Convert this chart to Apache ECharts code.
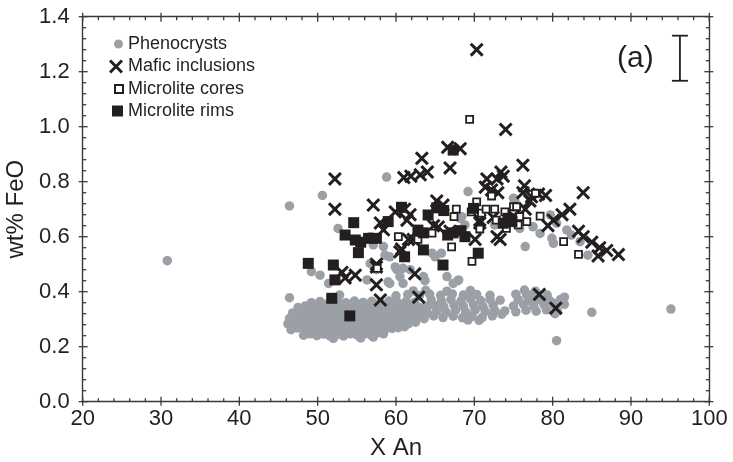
<!DOCTYPE html>
<html><head><meta charset="utf-8">
<script src="https://cdn.jsdelivr.net/npm/echarts@6/dist/echarts.min.js"></script>
<style>html,body{margin:0;padding:0;background:#fff}#c{width:733px;height:462px}</style>
</head><body><div id="c"></div>
<script>
// ---- data (X An, wt% FeO) ----
const xTicks = [20, 30, 40, 50, 60, 70, 80, 90, 100];
const yTicks = [0.0, 0.2, 0.4, 0.6, 0.8, 1.0, 1.2, 1.4];
const seriesNames = ['Phenocrysts', 'Mafic inclusions', 'Microlite cores', 'Microlite rims'];

const phenocrysts = [
  [48.2,0.242],[49.0,0.247],[49.9,0.240],[50.8,0.246],[51.6,0.238],[52.5,0.245],[53.3,0.239],[54.2,0.247],[55.1,0.241],[55.9,0.246],[56.8,0.243],[57.6,0.25],[58.4,0.247],
  [46.6,0.262],[47.4,0.268],[48.3,0.263],[49.1,0.267],[50.0,0.261],[50.9,0.266],[51.7,0.262],[52.6,0.268],[53.4,0.263],[54.3,0.266],[55.2,0.261],[56.0,0.267],[56.9,0.264],[57.7,0.268],[58.6,0.262],[59.5,0.267],[60.3,0.269],[61.1,0.273],
  [46.2,0.283],[47.0,0.288],[47.9,0.282],[48.7,0.287],[49.6,0.283],[50.5,0.288],[51.3,0.282],[52.2,0.286],[53.0,0.281],[53.9,0.287],[54.8,0.283],[55.6,0.288],[56.5,0.282],[57.3,0.287],[58.2,0.283],[59.1,0.288],[59.9,0.282],[60.8,0.287],[61.6,0.284],[62.5,0.289],
  [46.4,0.303],[47.3,0.308],[48.1,0.302],[49.0,0.307],[49.8,0.303],[50.7,0.308],[51.6,0.302],[52.4,0.306],[53.3,0.301],[54.1,0.307],[55.0,0.303],[55.9,0.308],[56.7,0.302],[57.6,0.307],[58.4,0.303],[59.3,0.308],[60.2,0.302],[61.0,0.307],[61.9,0.303],[62.7,0.306],[63.6,0.302],
  [46.8,0.323],[47.6,0.328],[48.5,0.322],[49.3,0.327],[50.2,0.323],[51.1,0.328],[51.9,0.322],[52.8,0.326],[53.6,0.321],[54.5,0.327],[55.4,0.323],[56.2,0.328],[57.1,0.322],[57.9,0.327],[58.8,0.323],[59.7,0.328],[60.5,0.322],[61.4,0.327],[62.2,0.323],[63.1,0.328],[64.0,0.324],
  [47.5,0.343],[48.4,0.348],[49.2,0.342],[50.1,0.347],[51.0,0.343],[51.8,0.348],[52.7,0.342],[53.5,0.346],[54.4,0.341],[55.3,0.347],[56.1,0.343],[57.0,0.348],[57.8,0.342],[58.7,0.347],[59.6,0.343],[60.4,0.348],[61.3,0.342],[62.1,0.347],[63.0,0.343],[63.9,0.346],
  [49.2,0.36],[50.3,0.364],[51.4,0.359],[52.5,0.365],[53.6,0.36],[54.7,0.366],[55.8,0.361],[56.9,0.365],[58.0,0.36],[59.1,0.366],[60.2,0.361],[61.3,0.365],[62.4,0.362],
  [64.8,0.312],[66.0,0.306],[67.3,0.311],[68.5,0.305],[69.7,0.31],[71.0,0.306],[72.3,0.312],
  [65.2,0.33],[66.4,0.326],[67.6,0.332],[68.9,0.327],[70.1,0.333],[71.4,0.328],[72.6,0.332],[73.9,0.33],[75.3,0.327],[76.6,0.333],[77.9,0.329],[79.2,0.334],[80.6,0.33],
  [64.9,0.35],[66.1,0.346],[67.4,0.352],[68.6,0.347],[69.9,0.352],[71.1,0.347],[72.4,0.351],[75.0,0.348],[76.3,0.353],[77.6,0.348],[78.9,0.353],[80.2,0.349],[81.5,0.354],
  [64.5,0.37],[65.8,0.366],[67.0,0.372],[68.3,0.367],[69.5,0.373],[70.8,0.368],[72.0,0.372],[73.3,0.369],[75.6,0.371],[76.9,0.367],[78.2,0.373],[79.6,0.368],[81.0,0.372],
  [60.0,0.385],[61.5,0.39],[63.0,0.386],[64.3,0.391],[65.7,0.387],[67.2,0.392],[68.6,0.388],[70.3,0.39],[72.0,0.387],[75.3,0.391],[76.7,0.387],[78.0,0.392],[79.3,0.388],
  [62.2,0.403],[63.8,0.405],[66.5,0.402],[69.5,0.404],[76.4,0.406],[77.8,0.402],
  [69.2,0.297],[70.6,0.296],[73.5,0.318],[57.1,0.235],[55.5,0.232],[52.0,0.23],
  [30.8,0.513],[46.4,0.712],[50.6,0.75],[58.8,0.817],[69.2,0.764],[76.5,0.564],
  [46.4,0.378],[49.2,0.473],[50.3,0.46],[51.4,0.43],[52.8,0.388],
  [56.7,0.503],[57.1,0.57],[58.4,0.564],[56.3,0.443],[59.0,0.436],[60.9,0.43],[59.9,0.49],
  [65.0,0.527],[65.8,0.54],[67.3,0.43],[68.0,0.443],[63.5,0.455],[56.7,0.60],[58.6,0.533],
  [59.2,0.527],[60.9,0.485],[64.6,0.54],[66.5,0.455],[63.7,0.44],[59.2,0.43],
  [57.5,0.48],[60.1,0.48],[60.5,0.455],[61.8,0.48],[67.9,0.44],
  [68.4,0.673],[68.8,0.643],[72.6,0.643],[75.0,0.74],[75.2,0.727],
  [77.5,0.636],[78.4,0.612],[79.9,0.594],[80.1,0.576],[79.7,0.679],[80.5,0.649],[81.8,0.624],[82.4,0.606],[83.5,0.582],[84.5,0.533],
  [52.6,0.63],[68.2,0.667],[75.8,0.63],
  [85.0,0.325],[95.1,0.337],[80.5,0.222],
  [77.1,0.388],[78.8,0.364],[80.1,0.358],[81.2,0.364],[80.3,0.32],[81.5,0.38]
];

const maficInclusions = [
  [70.3,1.28],[74.0,0.99],[66.6,0.925],[68.2,0.92],[63.3,0.885],[66.9,0.85],[76.2,0.86],
  [52.2,0.81],[52.2,0.70],[57.1,0.715],
  [61.0,0.815],[61.9,0.82],[63.1,0.825],[64.0,0.835],
  [73.4,0.835],[72.9,0.81],[73.7,0.82],[71.6,0.81],
  [71.4,0.78],[72.2,0.77],[73.0,0.76],[76.4,0.785],
  [76.2,0.76],[77.3,0.745],[78.2,0.755],[79.1,0.75],[77.1,0.73],
  [83.9,0.76],[82.2,0.70],[81.2,0.68],[80.1,0.66],[79.4,0.64],
  [83.3,0.62],[83.9,0.60],[85.0,0.58],[86.0,0.56],[86.9,0.55],[85.8,0.53],[88.4,0.535],
  [73.3,0.59],[78.3,0.39],[80.4,0.34],
  [65.2,0.73],[66.0,0.715],[61.1,0.70],[58.0,0.65],[59.9,0.69],[61.8,0.68],[61.4,0.66],
  [64.8,0.64],[66.9,0.62],[62.2,0.59],[70.1,0.59],[72.9,0.60],
  [70.7,0.65],[72.4,0.67],[75.0,0.675],[76.5,0.70],
  [60.7,0.555],[57.5,0.49],[58.4,0.625],[61.6,0.59],[60.5,0.545],
  [53.1,0.47],[54.8,0.46],[53.5,0.45],[57.5,0.50],[62.4,0.465],[57.5,0.425],[58.0,0.37],[62.9,0.38],
  [65.4,0.635],[70.7,0.66]
];

const microliteCores = [
  [69.4,1.027],[60.3,0.60],[62.8,0.59],[67.1,0.563],[69.7,0.51],
  [67.7,0.70],[67.4,0.673],[70.3,0.727],[70.9,0.686],[70.7,0.628],[72.2,0.748],
  [75.0,0.709],[75.4,0.709],[73.9,0.69],[75.8,0.673],[76.7,0.655],
  [74.3,0.66],[75.6,0.643],[74.1,0.63],[78.4,0.675],[57.6,0.485],[64.6,0.613],
  [77.8,0.758],[81.4,0.582],[83.3,0.536],[71.5,0.70],[72.6,0.70],[72.8,0.66],[69.6,0.69]
];

const microliteRims = [
  [67.3,0.915],[60.7,0.707],[54.6,0.651],[59.0,0.655],[64.1,0.679],[65.2,0.705],[66.1,0.695],[69.9,0.703],
  [53.5,0.606],[54.8,0.588],[55.5,0.58],[56.5,0.594],[57.5,0.594],[55.2,0.542],
  [62.8,0.624],[63.5,0.614],[66.6,0.606],[67.3,0.614],[68.3,0.622],[68.8,0.60],
  [63.5,0.552],[61.1,0.527],[66.0,0.497],[70.5,0.54],
  [48.8,0.503],[52.0,0.497],[52.2,0.443],[51.8,0.376],[54.1,0.312],
  [73.7,0.649],[74.3,0.667],[74.8,0.655]
];

// representative analytical uncertainty: [X An, FeO, ± error]
const errorBar = [[96.25, 1.249, 0.082]];
const panelLabel = '(a)';

// ---- chart ----
const INK = '#231f20';
const AXC = '#3a3a3a';
const GRAY = '#9ba0a7';
const FONT = 'Liberation Sans, Arial, Helvetica, sans-serif';
const XPATH = 'path://M0,1.5L1.5,0L5,3.5L8.5,0L10,1.5L6.5,5L10,8.5L8.5,10L5,6.5L1.5,10L0,8.5L3.5,5Z';

const xMin = xTicks[0], xMax = xTicks[xTicks.length-1], xInt = xTicks[1]-xTicks[0];
const yMin = yTicks[0], yMax = yTicks[yTicks.length-1], yInt = +(yTicks[1]-yTicks[0]).toFixed(2);
const MINOR_SPLIT = 5;

// tick positions (major = 1, minor = 0), derived from the tick-label arrays
function tickList(ticks) {
  const out = [];
  for (let i = 0; i < ticks.length; i++) {
    out.push([ticks[i], 1]);
    if (i < ticks.length - 1) {
      for (let k = 1; k < MINOR_SPLIT; k++) out.push([ticks[i] + (ticks[i+1] - ticks[i]) * k / MINOR_SPLIT, 0]);
    }
  }
  return out;
}
const xTickData = tickList(xTicks).map(t => [t[0], yMin, t[1]]);
const yTickData = tickList(yTicks).map(t => [xMin, t[0], t[1]]);

function axisLook() {
  return {
    axisLine: {show: true, onZero: false, lineStyle: {color: AXC, width: 1.4}},
    splitLine: {show: false},
    axisTick: {show: false},
    minorTick: {show: false}
  };
}

const MAJ_IN = 5, MAJ_OUT = 4, MIN_IN = 3.5;
const tickStyle = {stroke: AXC, lineWidth: 1.3};
function tickSeries(name, data, isX) {
  return {
    name: name, type: 'custom', data: data, z: 8, silent: true, clip: false,
    renderItem: function (params, api) {
      const v0 = api.value(0), v1 = api.value(1), major = api.value(2) === 1;
      const inL = major ? MAJ_IN : MIN_IN, outL = major ? MAJ_OUT : 0;
      if (isX) {
        const b = api.coord([v0, yMin]), t = api.coord([v0, yMax]);
        return {type: 'group', children: [
          {type: 'line', shape: {x1: b[0], y1: b[1] - inL, x2: b[0], y2: b[1] + outL}, style: tickStyle},
          {type: 'line', shape: {x1: t[0], y1: t[1] - outL, x2: t[0], y2: t[1] + inL}, style: tickStyle}
        ]};
      } else {
        const l = api.coord([xMin, v1]), r = api.coord([xMax, v1]);
        return {type: 'group', children: [
          {type: 'line', shape: {x1: l[0] - outL, y1: l[1], x2: l[0] + inL, y2: l[1]}, style: tickStyle},
          {type: 'line', shape: {x1: r[0] - inL, y1: r[1], x2: r[0] + outL, y2: r[1]}, style: tickStyle}
        ]};
      }
    }
  };
}

const chart = echarts.init(document.getElementById('c'));
chart.setOption({
  animation: false,
  backgroundColor: '#fff',
  textStyle: {fontFamily: FONT},
  title: {text: panelLabel, left: 612, top: 39, textStyle: {fontSize: 30, fontWeight: 'normal', color: INK, fontFamily: FONT}},
  grid: {left: 82.7, right: 23.7, top: 16.7, bottom: 60.3, containLabel: false, outerBoundsMode: 'none'},
  legend: [
    {data: [{name: seriesNames[0], icon: 'circle'}], left: 114, top: 35, padding: 0, itemWidth: 9, itemHeight: 9, itemTextGap: 5, selectedMode: false,
     textStyle: {fontSize: 18, color: INK, fontFamily: FONT}},
    {data: [{name: seriesNames[1], icon: XPATH}], left: 109, top: 57.5, padding: 0, itemWidth: 14, itemHeight: 14, itemTextGap: 5, selectedMode: false,
     textStyle: {fontSize: 18, color: INK, fontFamily: FONT}},
    {data: [{name: seriesNames[2], icon: 'rect'}], left: 114, top: 80, padding: 0, itemWidth: 8, itemHeight: 8, itemTextGap: 6, selectedMode: false,
     textStyle: {fontSize: 18, color: INK, fontFamily: FONT}},
    {data: [{name: seriesNames[3], icon: 'rect'}], left: 112, top: 102, padding: 0, itemWidth: 11, itemHeight: 11, itemTextGap: 5, selectedMode: false,
     textStyle: {fontSize: 18, color: INK, fontFamily: FONT}}
  ],
  xAxis: [
    Object.assign({
      type: 'value', position: 'bottom', min: xMin, max: xMax, interval: xInt,
      name: 'X An', nameLocation: 'middle', nameGap: 35,
      nameTextStyle: {fontSize: 24, color: INK, fontFamily: FONT},
      axisLabel: {show: true, fontSize: 22, color: INK, margin: 6, fontFamily: FONT}
    }, axisLook()),
    Object.assign({
      type: 'value', position: 'top', min: xMin, max: xMax, interval: xInt,
      axisLabel: {show: false}
    }, axisLook())
  ],
  yAxis: [
    Object.assign({
      type: 'value', position: 'left', min: yMin, max: yMax, interval: yInt,
      name: 'wt% FeO', nameLocation: 'middle', nameGap: 46, nameRotate: 90,
      nameTextStyle: {fontSize: 24, color: INK, fontFamily: FONT},
      axisLabel: {show: true, fontSize: 22, color: INK, margin: 13, fontFamily: FONT,
                  formatter: v => v.toFixed(1)}
    }, axisLook()),
    Object.assign({
      type: 'value', position: 'right', min: yMin, max: yMax, interval: yInt,
      axisLabel: {show: false}
    }, axisLook())
  ],
  series: [
    {name: seriesNames[0], type: 'scatter', data: phenocrysts, symbol: 'circle', symbolSize: 9.5,
     itemStyle: {color: GRAY, opacity: 1}, z: 2},
    {name: seriesNames[1], type: 'scatter', data: maficInclusions, symbol: XPATH, symbolSize: 14,
     itemStyle: {color: INK, opacity: 1}, z: 3},
    {name: seriesNames[2], type: 'scatter', data: microliteCores, symbol: 'rect', symbolSize: 7,
     itemStyle: {color: '#fff', borderColor: INK, borderWidth: 1.8, opacity: 1}, z: 4},
    {name: seriesNames[3], type: 'scatter', data: microliteRims, symbol: 'rect', symbolSize: 11,
     itemStyle: {color: INK, opacity: 1}, z: 5},
    {name: 'error', type: 'custom', data: errorBar, z: 6, silent: true,
     renderItem: function (params, api) {
       const x = api.value(0), y = api.value(1), e = api.value(2);
       const t = api.coord([x, y + e]), b = api.coord([x, y - e]);
       const w = 8, st = {stroke: INK, lineWidth: 1.8};
       return {type: 'group', children: [
         {type: 'line', shape: {x1: t[0], y1: t[1], x2: b[0], y2: b[1]}, style: st},
         {type: 'line', shape: {x1: t[0]-w, y1: t[1], x2: t[0]+w, y2: t[1]}, style: st},
         {type: 'line', shape: {x1: b[0]-w, y1: b[1], x2: b[0]+w, y2: b[1]}, style: st}
       ]};
     }},
    tickSeries('xTickMarks', xTickData, true),
    tickSeries('yTickMarks', yTickData, false)
  ]
});
</script></body></html>
